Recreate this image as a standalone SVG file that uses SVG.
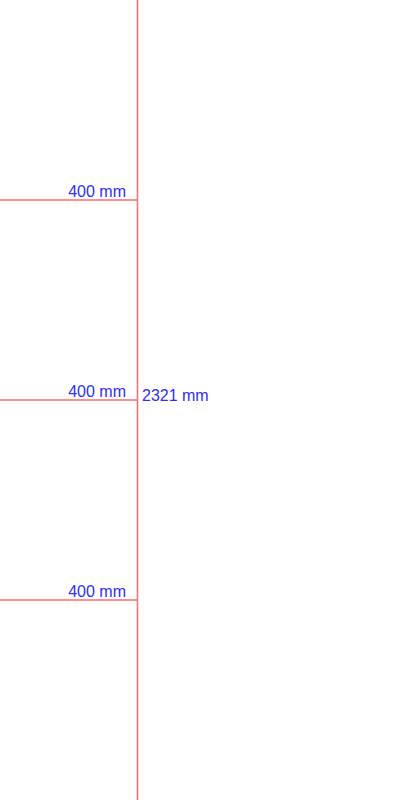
<svg xmlns="http://www.w3.org/2000/svg" width="405" height="800" viewBox="0 0 405 800">
<style>
.ln{stroke:#ff6b6b;stroke-width:1.5;fill:none}
.t{font-family:"Liberation Sans",Arial,sans-serif;font-size:16px;fill:#2e2ef5}
</style>
<rect width="405" height="800" fill="#fff"/>
<g id="connectors">
<line class="ln" x1="137.5" y1="0" x2="137.5" y2="800"/>
<line class="ln" x1="0" y1="200" x2="137.5" y2="200"/>
<line class="ln" x1="0" y1="400" x2="137.5" y2="400"/>
<line class="ln" x1="0" y1="600" x2="137.5" y2="600"/>
</g>
<g id="label-400-1"><text class="t" x="126" y="196.5" text-anchor="end">400 mm</text></g>
<g id="label-400-2"><text class="t" x="126" y="396.5" text-anchor="end">400 mm</text></g>
<g id="label-400-3"><text class="t" x="126" y="596.5" text-anchor="end">400 mm</text></g>
<g id="label-total"><text class="t" x="142" y="400.5">2321 mm</text></g>
</svg>
